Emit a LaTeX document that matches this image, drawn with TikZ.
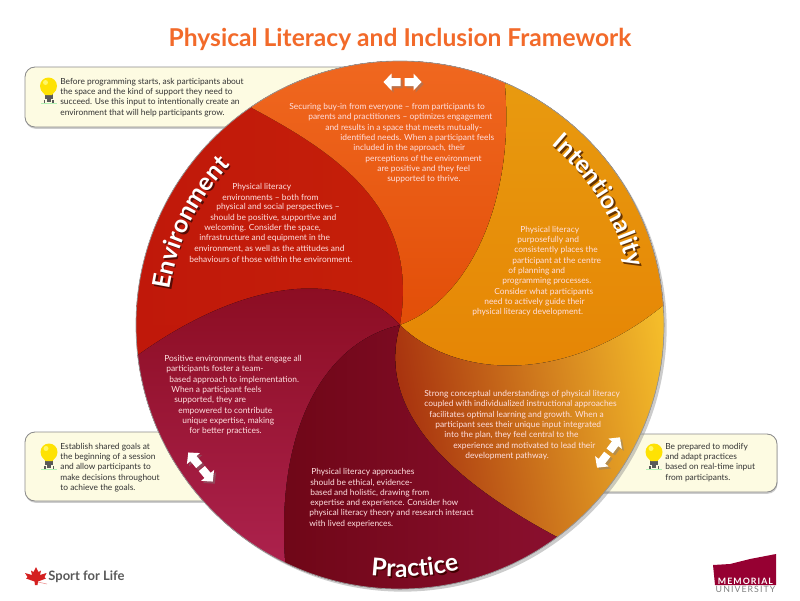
\documentclass[tikz,border=0pt]{standalone}
\usepackage{fontspec}
\setmainfont{Lato}
\usetikzlibrary{shadows,decorations.text}
\definecolor{cardcream}{HTML}{FDFBE2}
\definecolor{titleorange}{HTML}{F26A2A}
\definecolor{ringred}{HTML}{C0180A}
\definecolor{mapleRed}{HTML}{D42020}
\definecolor{munmaroon}{HTML}{960032}
\newcommand{\labfont}{\fontsize{14pt}{16pt}\selectfont\bfseries}
\tikzset{
  petaltext/.style={anchor=west,inner sep=0pt,text=white!88!red,font=\fontsize{4.78pt}{5.8pt}\selectfont},
  cardtext/.style={anchor=west,inner sep=0pt,text=black!80,font=\fontsize{4.78pt}{5.8pt}\selectfont},
  lifecard/.style={draw=black!45,line width=0.5pt,fill=cardcream,rounded corners=0.2cm,
    drop shadow={shadow xshift=0.3pt,shadow yshift=-1pt,opacity=0.4}},
  ringlabel/.style n args={2}{decorate,decoration={text along path,text align=center,
    text={|\labfont\color{#2}|#1}}},
  bulb/.pic={
    \fill[black!20!green!30] (-8,-17.5) rectangle (8,-17);
    \fill[black!65] (-4,-8) rectangle (4,-13);
    \fill[black!65] (-2,-13) rectangle (2,-15.5);
    \fill[black!65] (-5,-14) -- (-3.5,-14) -- (-3.5,-17) -- (-5,-17) -- cycle;
    \fill[black!65] (5,-14) -- (3.5,-14) -- (3.5,-17) -- (5,-17) -- cycle;
    \fill[yellow!85!orange] (0,0) circle (8.5);
    \fill[yellow!85!orange] (-7.5,-4) -- (-3.5,-9) -- (3.5,-9) -- (7.5,-4) -- cycle;
    \fill[yellow!60!white] (-3,3.5) circle (2.5);
  },
  twoway/.pic={
    \fill[white,drop shadow={shadow xshift=1.2pt,shadow yshift=-1.2pt,opacity=0.45}]
      (-19,0) -- (-11,8.5) -- (-11,4) -- (-2,4) -- (-2,-4) -- (-11,-4) -- (-11,-8.5) -- cycle;
    \fill[white,drop shadow={shadow xshift=1.2pt,shadow yshift=-1.2pt,opacity=0.45}]
      (19,0) -- (11,8.5) -- (11,4) -- (2,4) -- (2,-4) -- (11,-4) -- (11,-8.5) -- cycle;
  }
}
\begin{document}
\begin{tikzpicture}[x=0.02cm,y=0.02cm]
  \useasboundingbox (0,0) rectangle (800,600);
  \node[text=titleorange,font=\fontsize{14pt}{16pt}\selectfont\bfseries] (title) at (400,561) {Physical Literacy and Inclusion Framework};

  % cards behind the wheel
  \draw[lifecard] (25,473) rectangle (400,533);
  \draw[lifecard] (25,99) rectangle (300,168);
  \draw[lifecard] (500,108) rectangle (777,166);
  \pic (bulbtop) at (48.5,514) {bulb};
  \pic (bulbleft) at (49,148) {bulb};
  \pic (bulbright) at (654,148) {bulb};

  % wheel
  \fill[white,drop shadow={shadow xshift=1.5pt,shadow yshift=-1.5pt,opacity=0.4}] (400,275) circle (264);
  \begin{scope}
    \clip (400,275) circle (264);
    \fill[left color=ringred,right color=ringred!85!orange] (136,275) rectangle (664,539);
    \fill[ringred] (136,11) rectangle (400,275);
    % securing buy-in
    \fill[top color={rgb,255:red,240;green,104;blue,32},bottom color={rgb,255:red,226;green,78;blue,8}]
      (230,525) -- (252,492) .. controls (340,445) and (420,390) .. (400,275)
      .. controls (470,300) and (515,400) .. (505,515) -- (515,545) -- (230,545) -- cycle;
    % intentionality
    \fill[top color={rgb,255:red,232;green,156;blue,16},bottom color={rgb,255:red,230;green,132;blue,4}]
      (400,275) .. controls (470,300) and (515,400) .. (505,515) -- (515,545) -- (680,545)
      -- (680,300) -- (664,295) .. controls (560,210) and (450,225) .. (400,275) -- cycle;
    % strong understandings
    \fill[bottom color={rgb,255:red,160;green,36;blue,12},top color={rgb,255:red,244;green,188;blue,42},shading angle=-80]
      (400,275) .. controls (450,225) and (560,210) .. (664,295) -- (680,300) -- (680,40)
      -- (575,40) -- (557,63) .. controls (450,120) and (375,190) .. (400,275) -- cycle;
    % practice
    \fill[left color={rgb,255:red,110;green,6;blue,22},right color={rgb,255:red,140;green,16;blue,48}]
      (400,275) .. controls (375,190) and (450,120) .. (557,63) -- (575,40) -- (575,0)
      -- (270,0) -- (285,38) .. controls (275,180) and (330,260) .. (400,275) -- cycle;
    % positive environments
    \fill[top color={rgb,255:red,138;green,12;blue,32},bottom color={rgb,255:red,176;green,36;blue,82}]
      (400,275) .. controls (330,260) and (275,180) .. (285,38) -- (270,5) -- (120,5)
      -- (120,240) -- (138,245) .. controls (250,325) and (350,330) .. (400,275) -- cycle;
  \end{scope}
  \draw[black!40,line width=0.4pt] (400,275) circle (264);

  % petal texts
  \foreach \i/\x/\txt in {0/289/{Securing buy-in from everyone – from participants to},
      1/308/{parents and practitioners – optimizes engagement},
      2/325/{and results in a space that meets mutually-},
      3/340/{identified needs. When a participant feels},
      4/353/{included in the approach, their},
      5/365/{perceptions of the environment},
      6/377/{are positive and they feel},
      7/387/{supported to thrive.}} {
    \node[petaltext] (buyin\i) at (\x,{492.7-\i*10.3}) {\txt};
  }
  \foreach \i/\x/\txt in {0/232/{Physical literacy},
      1/222/{environments – both from},
      2/216/{physical and social perspectives –},
      3/210/{should be positive, supportive and},
      4/204/{welcoming. Consider the space,},
      5/199/{infrastructure and equipment in the},
      6/194/{environment, as well as the attitudes and},
      7/189/{behaviours of those within the environment.}} {
    \node[petaltext] (env\i) at (\x,{413-\i*10.3}) {\txt};
  }
  \foreach \i/\x/\txt in {0/520/{Physical literacy},
      1/517/{purposefully and},
      2/514/{consistently places the},
      3/512/{participant at the centre},
      4/508/{of planning and},
      5/502/{programming processes.},
      6/494/{Consider what participants},
      7/484/{need to actively guide their},
      8/472/{physical literacy development.}} {
    \node[petaltext] (intent\i) at (\x,{370-\i*10.3}) {\txt};
  }
  \foreach \i/\x/\txt in {0/164/{Positive environments that engage all},
      1/166/{participants foster a team-},
      2/169/{based approach to implementation.},
      3/171/{When a participant feels},
      4/174/{supported, they are},
      5/178/{empowered to contribute},
      6/182/{unique expertise, making},
      7/189/{for better practices.}} {
    \node[petaltext] (pos\i) at (\x,{240.7-\i*10.3}) {\txt};
  }
  \foreach \i/\x/\txt in {0/311/{Physical literacy approaches},
      1/310/{should be ethical, evidence-},
      2/310/{based and holistic, drawing from},
      3/310/{expertise and experience. Consider how},
      4/309/{physical literacy theory and research interact},
      5/309/{with lived experiences.}} {
    \node[petaltext] (prac\i) at (\x,{127.7-\i*10.3}) {\txt};
  }
  \foreach \i/\x/\txt in {0/424/{Strong conceptual understandings of physical literacy},
      1/424/{coupled with individualized instructional approaches},
      2/429/{facilitates optimal learning and growth. When a},
      3/435/{participant sees their unique input integrated},
      4/444/{into the plan, they feel central to the},
      5/453/{experience and motivated to lead their},
      6/465/{development pathway.}} {
    \node[petaltext] (strong\i) at (\x,{205.7-\i*10.3}) {\txt};
  }

  % card texts
  \foreach \i/\txt in {0/{Before programming starts, ask participants about},
      1/{the space and the kind of support they need to},
      2/{succeed. Use this input to intentionally create an},
      3/{environment that will help participants grow.}} {
    \node[cardtext] (tiptop\i) at (60,{518-\i*10.3}) {\txt};
  }
  \foreach \i/\txt in {0/{Establish shared goals at},
      1/{the beginning of a session},
      2/{and allow participants to},
      3/{make decisions throughout},
      4/{to achieve the goals.}} {
    \node[cardtext] (tipleft\i) at (60,{153-\i*10.3}) {\txt};
  }
  \foreach \i/\txt in {0/{Be prepared to modify},
      1/{and adapt practices},
      2/{based on real-time input},
      3/{from participants.}} {
    \node[cardtext] (tipright\i) at (665,{153-\i*10.3}) {\txt};
  }

  % curved names
  \path[shift={(1.5,-1.5)},ringlabel={Environment}{ringred!45!black}] (400,275) ++(174:233) arc[start angle=174,end angle=134,radius=233];
  \path[ringlabel={Environment}{white}] (400,275) ++(174:233) arc[start angle=174,end angle=134,radius=233];
  \path[shift={(1.5,-1.5)},ringlabel={Intentionality}{orange!40!black}] (400,275) ++(53:235) arc[start angle=53,end angle=11,radius=235];
  \path[ringlabel={Intentionality}{white}] (400,275) ++(53:235) arc[start angle=53,end angle=11,radius=235];
  \path[shift={(1.5,-1.5)},ringlabel={Practice}{red!25!black}] (400,275) ++(261.5:252) arc[start angle=261.5,end angle=285.5,radius=252];
  \path[ringlabel={Practice}{white}] (400,275) ++(261.5:252) arc[start angle=261.5,end angle=285.5,radius=252];

  % arrows on the wheel
  \pic (armtop) at (402.5,518) {twoway};
  \pic[rotate=-50] (armleft) at (200.5,133) {twoway};
  \pic[rotate=53] (armright) at (608.5,147.5) {twoway};

  % logos
  \fill[mapleRed] (36,33) -- (38.5,28) -- (41,29.5) -- (40,25) -- (46.5,27) -- (44.5,23) -- (46,21.5)
    -- (38,18.5) -- (37.5,15) -- (35,15) -- (34.5,18.5) -- (26,21.5) -- (27.5,23) -- (25,27)
    -- (32,25) -- (31,29.5) -- (33.5,28) -- cycle;
  \draw[mapleRed!50,line width=0.3pt] (38,18) -- (47,16);
  \node[anchor=west,inner sep=0pt,text=black!65,font=\fontsize{7.4pt}{9pt}\selectfont\bfseries] (sportlogo) at (48,23) {Sport for Life};
  \fill[munmaroon] (713,35) -- (730,36) -- (750,41) -- (776,46) -- (776,15) -- (715,15) -- cycle;
  \node[inner sep=0pt,text=white,font=\fontsize{5pt}{6pt}\selectfont\bfseries\addfontfeatures{LetterSpace=12}] (munname) at (745.5,19) {MEMORIAL};
  \node[inner sep=0pt,text=black!50,font=\fontsize{5pt}{6pt}\selectfont\addfontfeatures{LetterSpace=12}] (munplace) at (745.5,11) {UNIVERSITY};
\end{tikzpicture}
\end{document}
